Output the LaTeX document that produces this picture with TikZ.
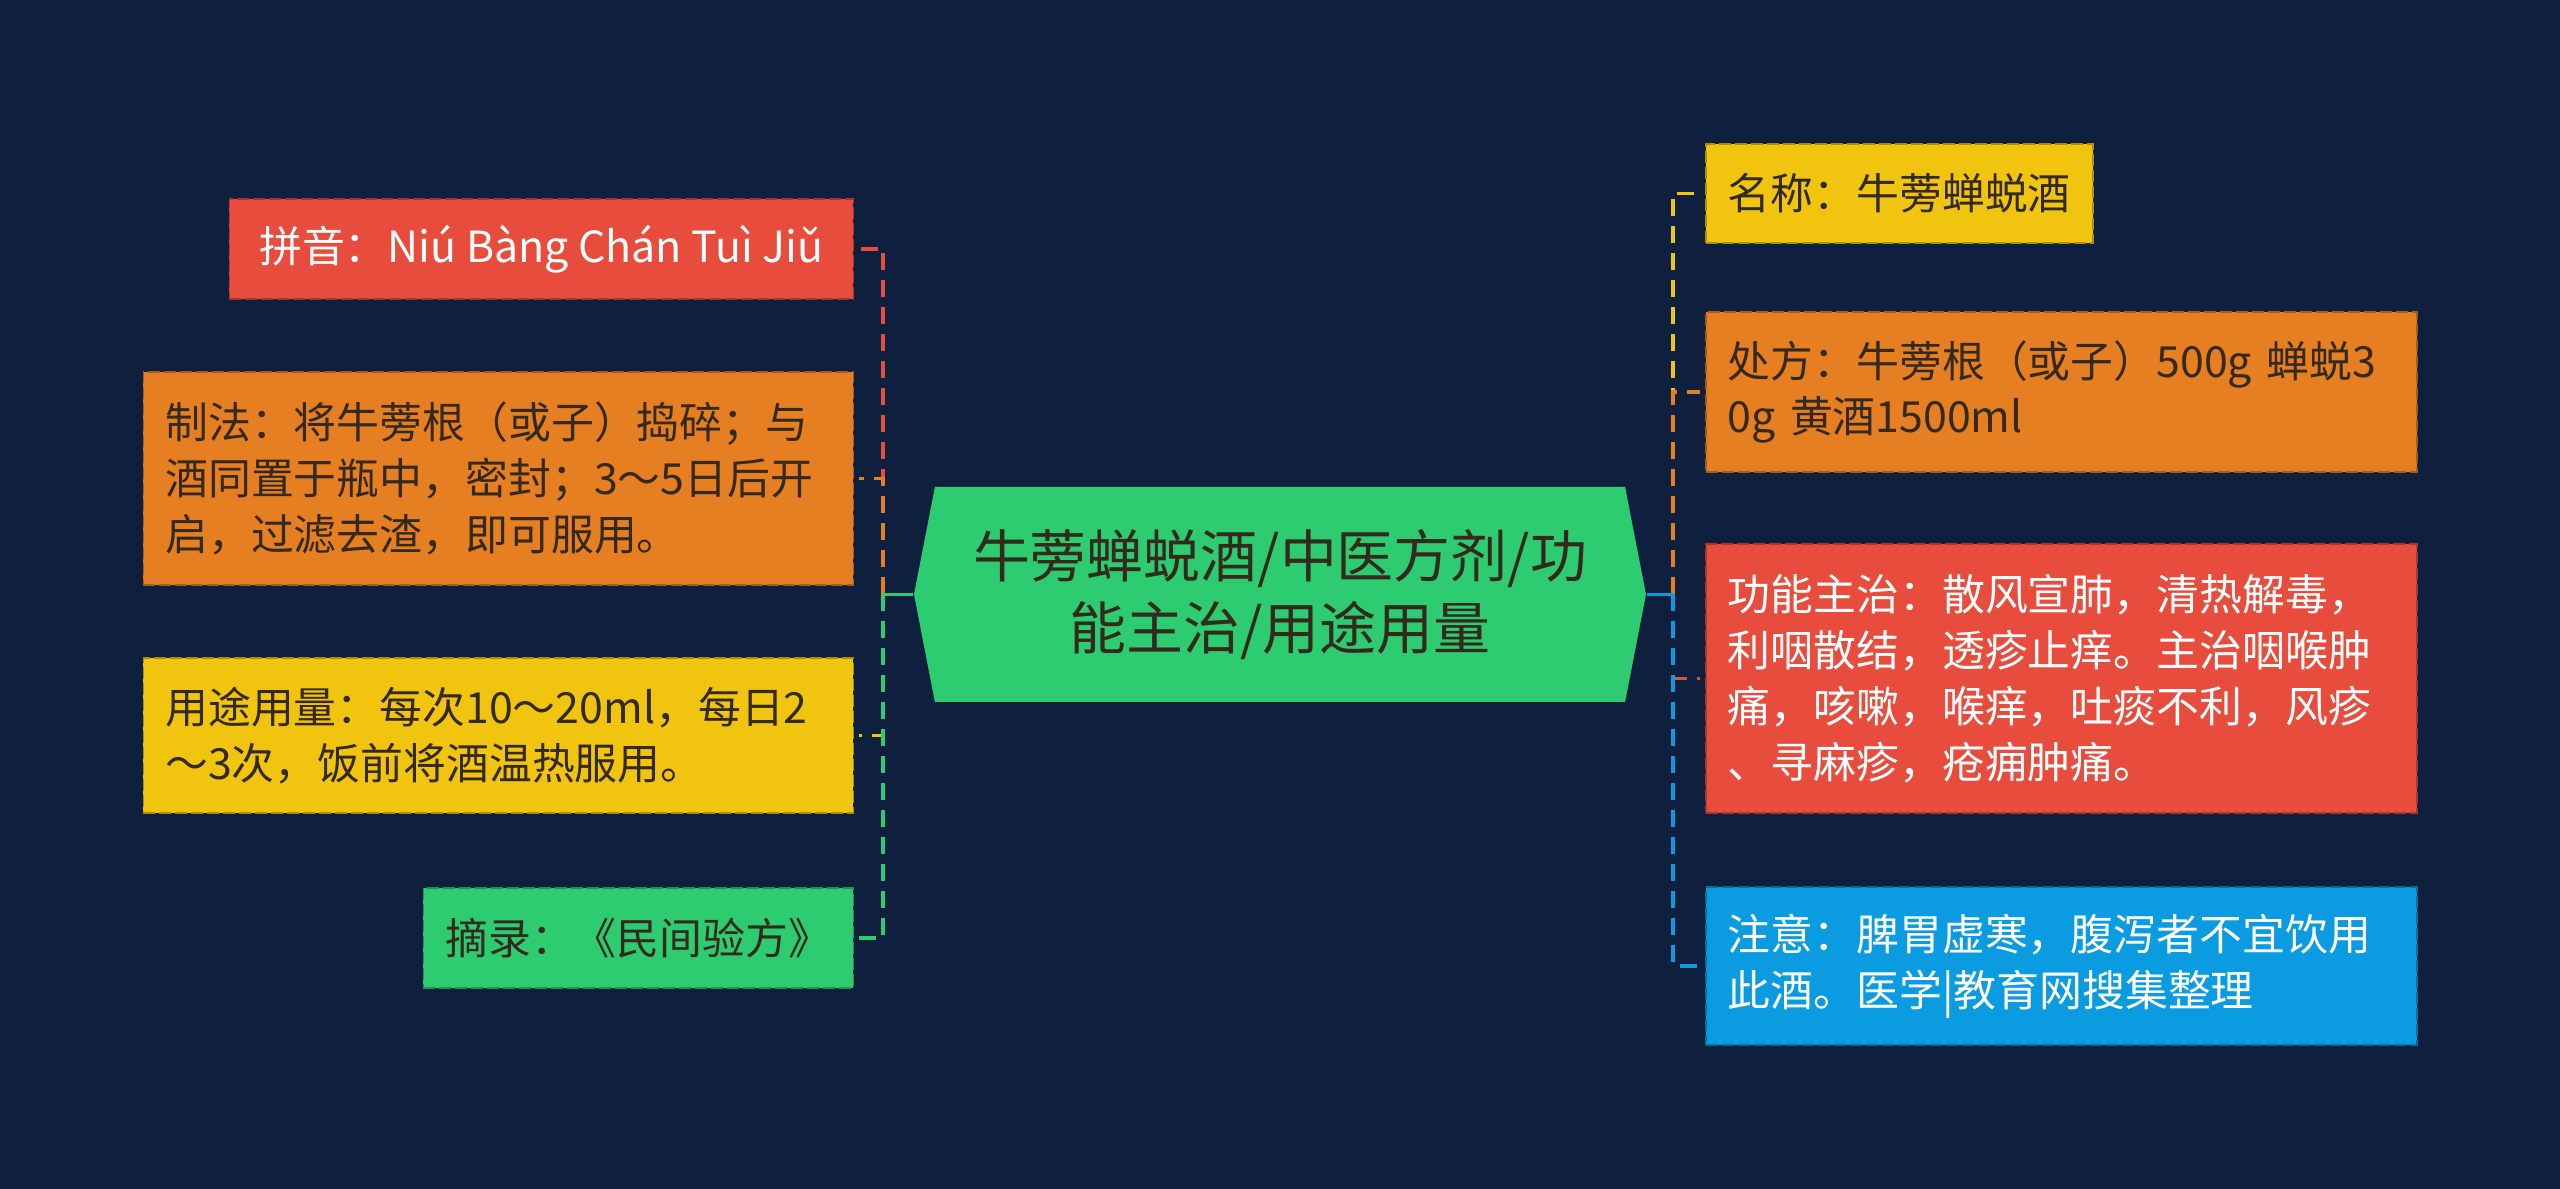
\documentclass[tikz,border=0pt]{standalone}
\usepackage{fontspec}
\setmainfont{Noto Sans CJK SC}
\usepackage{tikz}
\usetikzlibrary{shapes.symbols, positioning}
\definecolor{navybg}{HTML}{0E203D}
\definecolor{mapred}{HTML}{E74C3C}
\definecolor{maporange}{HTML}{E67E22}
\definecolor{mapyellow}{HTML}{F1C40F}
\definecolor{mapgreen}{HTML}{2ECC71}
\definecolor{mapblue}{HTML}{0A9BE0}
\definecolor{inkdark}{HTML}{33291C}

\begin{document}
\begin{tikzpicture}[
    x=0.1mm, y=0.1mm,
    leaf/.style={rectangle, draw=#1!72!black, fill=#1, dash pattern=on 1.2mm off 0.4mm, line width=0.15mm, inner xsep=2.2mm, inner ysep=0mm, align=left, font=\fontsize{12.2}{15.9}\selectfont},
    darkink/.style={text=inkdark},
    lightink/.style={text=white},
    hub/.style={signal, signal to=west and east, signal pointer angle=158, fill=mapgreen, minimum width=73.2mm, minimum height=21.5mm, inner sep=0mm, align=center, text=inkdark, font=\fontsize{16.2}{20.5}\selectfont},
    link/.style={dash pattern=on 1.7mm off 1mm, line width=0.38mm, shorten >=0.5mm},
    stem/.style={line width=0.38mm}
]
\useasboundingbox[fill=navybg] (0,0) rectangle (2560,1189);
\node[hub] (center) at (1280,594.5) {牛蒡蝉蜕酒/中医方剂/功\\能主治/用途用量};
\node[leaf=mapred, lightink, minimum width=62.4mm, minimum height=10mm, anchor=east] (pinyin) at (854,940) {拼音：Niú Bàng Chán Tuì Jiǔ};
\node[leaf=maporange, darkink, text width=66.6mm, minimum height=21.3mm, anchor=east] (zhifa) at (854,710.5) {制法：将牛蒡根（或子）捣碎；与\\酒同置于瓶中，密封；3～5日后开\\启，过滤去渣，即可服用。};
\node[leaf=mapyellow, darkink, text width=66.6mm, minimum height=15.5mm, anchor=east] (yongtu) at (854,453.5) {用途用量：每次10～20ml，每日2\\～3次，饭前将酒温热服用。};
\node[leaf=mapgreen, darkink, minimum width=42.9mm, minimum height=10mm, anchor=east] (zhailu) at (854,251) {摘录：《民间验方》};
\node[leaf=mapyellow, darkink, minimum width=38.5mm, minimum height=9.9mm, anchor=west] (mingcheng) at (1705,995.5) {名称：牛蒡蝉蜕酒};
\node[leaf=maporange, darkink, text width=66.7mm, minimum height=16mm, anchor=west] (chufang) at (1705,797) {处方：牛蒡根（或子）500g 蝉蜕3\\0g 黄酒1500ml};
\node[leaf=mapred, lightink, text width=66.7mm, minimum height=26.9mm, anchor=west] (gongneng) at (1705,510.5) {功能主治：散风宣肺，清热解毒，\\利咽散结，透疹止痒。主治咽喉肿\\痛，咳嗽，喉痒，吐痰不利，风疹\\、寻麻疹，疮痈肿痛。};
\node[leaf=mapblue, lightink, text width=66.7mm, minimum height=15.8mm, anchor=west] (zhuyi) at (1705,223) {注意：脾胃虚寒，腹泻者不宜饮用\\此酒。医学|教育网搜集整理};
\coordinate (leftbus) at (883,594.5);
\coordinate (rightbus) at (1673,594.5);
\draw[link, mapred] (leftbus) |- (pinyin); \draw[link, maporange] (leftbus) |- (zhifa); \draw[link, mapyellow] (leftbus) |- (yongtu); \draw[link, mapgreen] (leftbus) |- (zhailu);
\draw[stem, mapgreen] (center.west) -- (leftbus);
\draw[link, mapyellow] (rightbus) |- (mingcheng); \draw[link, maporange] (rightbus) |- (chufang); \draw[link, mapred] (rightbus) |- (gongneng); \draw[link, mapblue] (rightbus) |- (zhuyi);
\draw[stem, mapblue] (center.east) -- (rightbus);
\end{tikzpicture}
\end{document}
